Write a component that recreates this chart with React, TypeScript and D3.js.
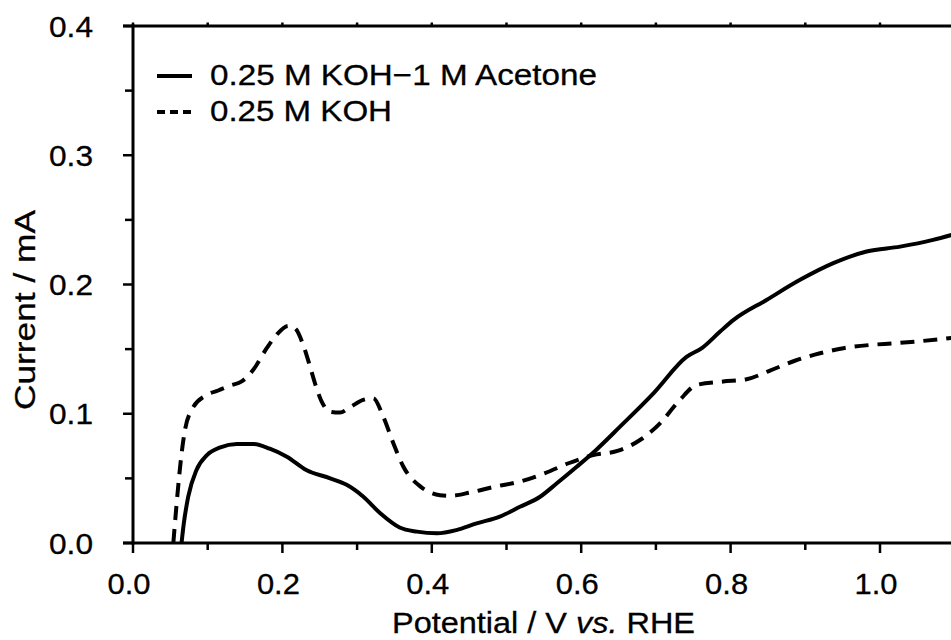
import React from "react";
import * as d3 from "d3";

// ---- data ----
const potentialAcetone = [0.065, 0.068, 0.074, 0.085, 0.099, 0.117, 0.139, 0.161, 0.183, 0.206, 0.232, 0.264, 0.286, 0.308, 0.331, 0.357, 0.38, 0.407, 0.433, 0.46, 0.491, 0.518, 0.545, 0.567, 0.594, 0.62, 0.652, 0.697, 0.741, 0.762, 0.786, 0.804, 0.848, 0.893, 0.9375, 0.982, 1.027, 1.071, 1.1];
const currentAcetone = [0.0, 0.015, 0.036, 0.0565, 0.068, 0.074, 0.0766, 0.0766, 0.073, 0.0668, 0.0565, 0.05, 0.045, 0.036, 0.023, 0.012, 0.0088, 0.0075, 0.01, 0.0152, 0.0204, 0.028, 0.0358, 0.046, 0.059, 0.072, 0.09, 0.116, 0.144, 0.151, 0.1636, 0.1726, 0.188, 0.2036, 0.2165, 0.2255, 0.2293, 0.2345, 0.239];

const potentialKOH = [0.054, 0.0585, 0.065, 0.0696, 0.0785, 0.0986, 0.114, 0.13, 0.1455, 0.161, 0.179, 0.192, 0.208, 0.217, 0.228, 0.237, 0.2436, 0.2526, 0.2637, 0.277, 0.2905, 0.308, 0.3217, 0.335, 0.3485, 0.362, 0.385, 0.411, 0.424, 0.451, 0.4846, 0.518, 0.5515, 0.583, 0.616, 0.6497, 0.6787, 0.7055, 0.732, 0.7546, 0.79, 0.8215, 0.8527, 0.886, 0.9197, 0.951, 0.9866, 1.018, 1.051, 1.085, 1.1];
const currentKOH = [0.0, 0.031, 0.069, 0.0875, 0.103, 0.1145, 0.118, 0.1218, 0.125, 0.134, 0.1507, 0.161, 0.168, 0.166, 0.153, 0.1365, 0.1236, 0.1094, 0.1016, 0.1009, 0.105, 0.1107, 0.112, 0.0978, 0.0772, 0.059, 0.0436, 0.037, 0.0365, 0.039, 0.0436, 0.0475, 0.054, 0.0617, 0.068, 0.0714, 0.0797, 0.0926, 0.1107, 0.1223, 0.1249, 0.1267, 0.1334, 0.141, 0.1468, 0.1507, 0.1532, 0.1545, 0.156, 0.158, 0.159];

const xTickLabels = ["0.0", "0.2", "0.4", "0.6", "0.8", "1.0"];
const yTickLabels = ["0.0", "0.1", "0.2", "0.3", "0.4"];
const legendLabels = ["0.25 M KOH\u22121 M Acetone", "0.25 M KOH"];

const W = 951;
const H = 640;
const FONT = "'Liberation Sans', Arial, Helvetica, sans-serif";

export default function App() {
  const x = d3.scaleLinear().domain([0, 1.1]).range([133, 133 + 747 * 1.1]);
  const y = d3.scaleLinear().domain([0, 0.4]).range([543, 26]);

  const line = d3
    .line<[number, number]>()
    .x((d) => x(d[0]))
    .y((d) => y(d[1]))
    .curve(d3.curveMonotoneX);

  const solidPts = potentialAcetone.map((p, i) => [p, currentAcetone[i]] as [number, number]);
  const dashPts = potentialKOH.map((p, i) => [p, currentKOH[i]] as [number, number]);

  const xMinor = d3.range(0, 11).map((i) => i / 10);
  const yMinor = d3.range(0, 9).map((i) => i * 0.05);

  const left = x(0);
  const right = W;
  const bottom = y(0);
  const top = y(0.4);

  return (
    <svg
      width={W}
      height={H}
      style={{ position: "absolute", left: 0, top: 0, background: "#fff" }}
      fontFamily={FONT}
    >
      <rect x={0} y={0} width={W} height={H} fill="#fff" />
      <defs>
        <clipPath id="plot">
          <rect x={left} y={top} width={right - left} height={bottom - top} />
        </clipPath>
      </defs>

      {/* curves */}
      <g clipPath="url(#plot)" fill="none" stroke="#000" strokeWidth={4} strokeLinejoin="round">
        <path d={line(solidPts) || ""} />
        <path d={line(dashPts) || ""} strokeDasharray="14 9" />
      </g>

      {/* axes frame */}
      <g stroke="#000">
        <line x1={left} x2={left} y1={top - 1.5} y2={bottom + 1.5} strokeWidth={3} />
        <line x1={left - 10} x2={right} y1={bottom} y2={bottom} strokeWidth={3} />
        <line x1={left - 10} x2={right} y1={top} y2={top} strokeWidth={3} />
        {/* x ticks bottom */}
        {xMinor.map((v, i) => (
          <line key={"xb" + i} x1={x(v)} x2={x(v)} y1={bottom} y2={bottom + (i % 2 === 0 ? 10 : 7)} strokeWidth={2.5} />
        ))}
        {/* x ticks top */}
        {xMinor.map((v, i) => (
          <line key={"xt" + i} x1={x(v)} x2={x(v)} y1={top} y2={top - 3.5} strokeWidth={2.5} />
        ))}
        {/* y ticks */}
        {yMinor.map((v, i) => (
          <line key={"y" + i} x1={left} x2={left - (i % 2 === 0 ? 10 : 8)} y1={y(v)} y2={y(v)} strokeWidth={2.5} />
        ))}
      </g>

      {/* tick labels */}
      <g fontSize={29} fill="#000" stroke="#000" strokeWidth={0.3}>
        {xTickLabels.map((t) => (
          <text key={"xl" + t} x={x(+t) - 4} y={594} textAnchor="middle" textLength={43} lengthAdjust="spacingAndGlyphs">
            {t}
          </text>
        ))}
        {yTickLabels.map((t) => (
          <text key={"yl" + t} x={93} y={y(+t) + 10.5} textAnchor="end" textLength={44} lengthAdjust="spacingAndGlyphs">
            {t}
          </text>
        ))}
      </g>

      {/* axis titles */}
      <g fill="#000" stroke="#000" strokeWidth={0.3}>
        <text x={543.5} y={633} fontSize={29} textAnchor="middle" textLength={303} lengthAdjust="spacingAndGlyphs">
          <tspan>Potential / V </tspan>
          <tspan fontStyle="italic">vs.</tspan>
          <tspan> RHE</tspan>
        </text>
        <text
          transform="translate(35,310) rotate(-90)"
          fontSize={29}
          textAnchor="middle"
          textLength={200}
          lengthAdjust="spacingAndGlyphs"
        >
          Current / mA
        </text>
      </g>

      {/* legend */}
      <g>
        <line x1={157} x2={192} y1={76} y2={76} stroke="#000" strokeWidth={4} />
        <text x={210} y={85} fontSize={29} textLength={387} lengthAdjust="spacingAndGlyphs" stroke="#000" strokeWidth={0.3}>
          {legendLabels[0]}
        </text>
        <line x1={157} x2={193} y1={112} y2={112} stroke="#000" strokeWidth={4} strokeDasharray="8 5" />
        <text x={210} y={121} fontSize={29} textLength={182} lengthAdjust="spacingAndGlyphs" stroke="#000" strokeWidth={0.3}>
          {legendLabels[1]}
        </text>
      </g>
    </svg>
  );
}
